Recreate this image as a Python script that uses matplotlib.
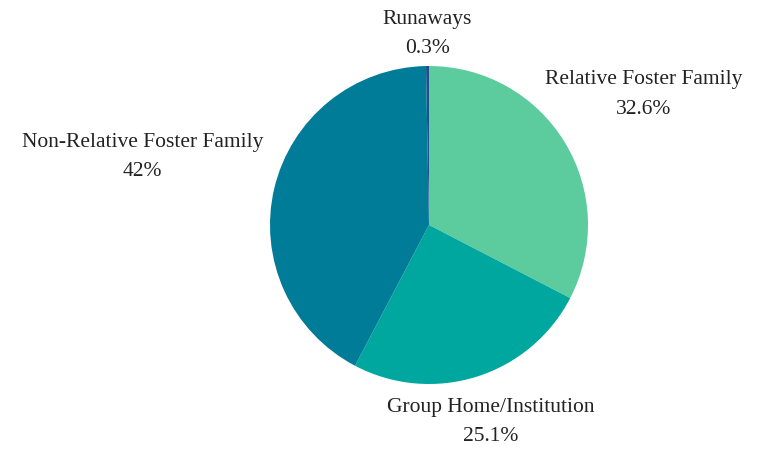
import numpy as np
import matplotlib.pyplot as plt

# donnees
labels = ['Relative Foster Family', 'Group Home/Institution', 'Non-Relative Foster Family', 'Runaways']
values = [32.6, 25.1, 42.0, 0.3]
pct_txt = ['32.6%', '25.1%', '42%', '0.3%']
colors = ['#5ccc9e', '#00a79f', '#007c98', '#1d4f8a']
dist = [1.58, 1.30, 1.85, 1.20] # distance du label au centre

fig = plt.figure(figsize=(7.63, 4.49), dpi=100)
cx, cy, r = 429, 449 - 225, 159
ax = fig.add_axes([(cx - r) / 763, (cy - r) / 449, 2 * r / 763, 2 * r / 449])
wedges, _ = ax.pie(values, colors=colors, startangle=90, counterclock=False,
                   radius=1, wedgeprops=dict(linewidth=0))
ax.set_xlim(-1, 1)
ax.set_ylim(-1, 1)
ax.set_aspect('auto')
ax.axis('off')

for w, lab, p, d in zip(wedges, labels, pct_txt, dist):
    ang = np.deg2rad((w.theta1 + w.theta2) / 2)
    x = d * np.cos(ang)
    y = d * np.sin(ang)
    ax.text(x, y, lab + '\n' + p, ha='center', va='center', fontsize=15.5,
            family='Liberation Serif', color='#222222', linespacing=1.75, clip_on=False)

fig.savefig('out.png', dpi=100)
